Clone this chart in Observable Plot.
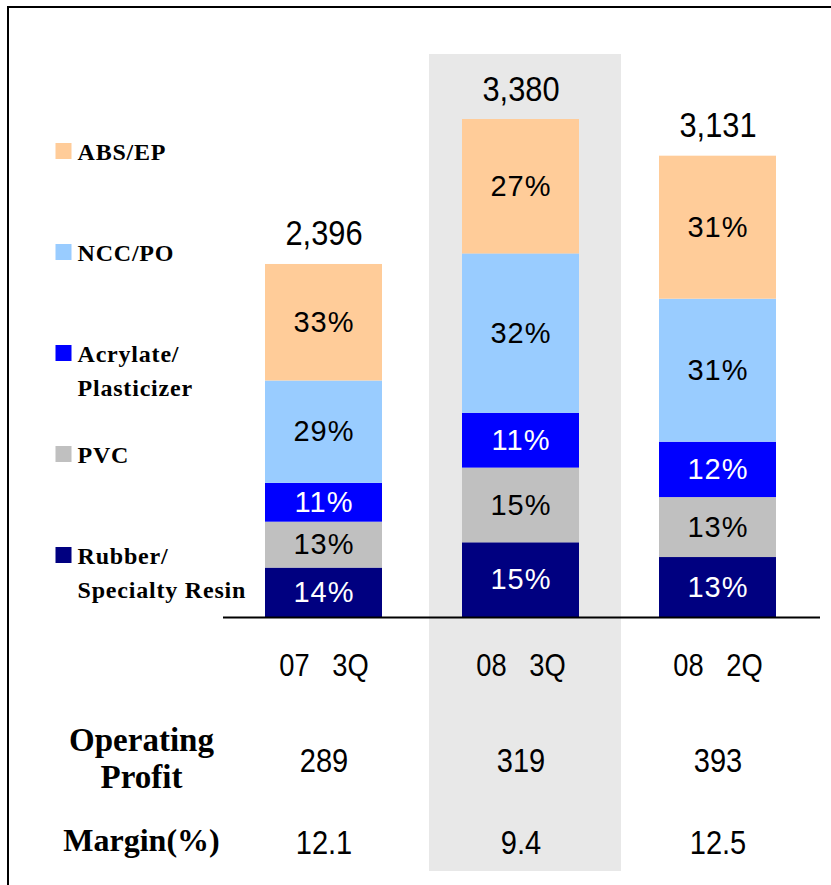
<!DOCTYPE html>
<html>
<head>
<meta charset="utf-8">
<script src="https://cdn.jsdelivr.net/npm/d3@7"></script>
<script src="https://cdn.jsdelivr.net/npm/@observablehq/plot@0.6"></script>
<style>
  body { margin: 0; background: #fff; }
  #wrap { position: relative; width: 831px; height: 885px; overflow: hidden; }
  #border { position: absolute; left: 7px; top: 6px; width: 900px; height: 900px;
            border-left: 2px solid #000; border-top: 2px solid #000; box-sizing: border-box; pointer-events: none; }
  #chart text { white-space: pre; }
</style>
</head>
<body>
<div id="wrap"><div id="chart"></div><div id="border"></div></div>
<script>
// ---- data ----
const quarters = ["07 3Q", "08 3Q", "08 2Q"];
const totals = [2396, 3380, 3131];
const operatingProfit = [289, 319, 393];
const marginPct = ["12.1", "9.4", "12.5"];
const highlighted = "08 3Q";

// segments, stacked bottom to top
const segments = ["Rubber/\nSpecialty Resin", "PVC", "Acrylate/\nPlasticizer", "NCC/PO", "ABS/EP"];
const rubberPct = [14, 15, 13];
const pvcPct = [13, 15, 13];
const acrylatePct = [11, 11, 12];
const nccPct = [29, 32, 31];
const absPct = [33, 27, 31];

// ---- styles ----
const segmentColors = ["#000080", "#C0C0C0", "#0000FF", "#99CCFF", "#FFCC99"];
const segmentTextColors = ["#ffffff", "#000000", "#ffffff", "#000000", "#000000"];
const sans = "'Liberation Sans', Arial, sans-serif";
const serif = "'Liberation Serif', 'Times New Roman', serif";

const pctBySegment = [rubberPct, pvcPct, acrylatePct, nccPct, absPct];
const rows = quarters.flatMap((q, i) => segments.map((s, j) => ({
  quarter: q,
  segment: s,
  pct: pctBySegment[j][i],
  value: totals[i] * pctBySegment[j][i] / 100,
  color: segmentColors[j],
  textColor: segmentTextColors[j]
})));

const legendMarks = segments.slice().reverse().flatMap((s, i) => {
  const j = segments.length - 1 - i;
  return [
    Plot.dot([s], {frameAnchor: "top-left", dx: -201, dy: 31.5 + i * 101, symbol: "square", r: 9.03, fill: segmentColors[j], stroke: null}),
    Plot.text([s], {frameAnchor: "top-left", dx: -187, dy: 16 + i * 101, text: d => d, textAnchor: "start", lineAnchor: "top",
      fontFamily: serif, fontWeight: "bold", fontSize: 24, lineHeight: 34 / 24, fill: "#000", ariaDescription: "legend"})
  ];
});

const plot = Plot.plot({
  width: 831,
  height: 885,
  marginLeft: 264,
  marginRight: 53,
  marginTop: 119,
  marginBottom: 268,
  style: {background: "transparent", fontFamily: sans},
  x: {type: "band", domain: quarters, paddingInner: 0.404, paddingOuter: 0, axis: null},
  y: {domain: [0, d3.max(totals)], axis: null},
  color: {type: "identity"},
  marks: [
    // highlight band
    Plot.barY([highlighted], {x: d => d, y1: 0, y2: d3.max(totals), fill: "#E8E8E8",
      insetLeft: -33, insetRight: -42, insetTop: -65, insetBottom: -254}),
    // stacked bars
    Plot.barY(rows, {x: "quarter", y: "value", z: "segment", fill: "color"}),
    // percentage labels
    Plot.text(rows, Plot.stackY({x: "quarter", y: "value", z: "segment", text: d => d.pct + "%",
      fill: "textColor", fontSize: 29, fontFamily: sans, ariaDescription: "pct"})),
    // baseline
    Plot.ruleY([0], {stroke: "#000", strokeWidth: 2, insetLeft: -41, insetRight: -42}),
    // totals
    Plot.text(quarters, {x: d => d, y: (d, i) => totals[i], text: (d, i) => d3.format(",")(totals[i]),
      lineAnchor: "bottom", dy: -19, fontSize: 35, fontFamily: sans, fill: "#000", ariaDescription: "narrow"}),
    // category labels
    Plot.text(quarters, {x: d => d, frameAnchor: "bottom", text: d => d.replace(" ", "   "), lineAnchor: "bottom", dy: 58,
      fontSize: 31, fontFamily: sans, fill: "#000", ariaDescription: "narrow"}),
    // operating profit row
    Plot.text(quarters, {x: d => d, frameAnchor: "bottom", text: (d, i) => String(operatingProfit[i]), lineAnchor: "bottom", dy: 154,
      fontSize: 33, fontFamily: sans, fill: "#000", ariaDescription: "narrow"}),
    // margin row
    Plot.text(quarters, {x: d => d, frameAnchor: "bottom", text: (d, i) => marginPct[i], lineAnchor: "bottom", dy: 236,
      fontSize: 33, fontFamily: sans, fill: "#000", ariaDescription: "narrow"}),
    // row headers
    Plot.text(["Operating\nProfit"], {frameAnchor: "bottom-left", dx: -123, dy: 170, text: d => d, lineAnchor: "bottom", textAnchor: "middle",
      fontSize: 33, lineHeight: 37 / 33, fontWeight: "bold", fontFamily: serif, fill: "#000"}),
    Plot.text(["Margin(%)"], {frameAnchor: "bottom-left", dx: -123, dy: 233, text: d => d, lineAnchor: "bottom", textAnchor: "middle",
      fontSize: 32, fontWeight: "bold", fontFamily: serif, fill: "#000"}),
    ...legendMarks
  ]
});

// narrow the sans-serif numerals (condensed look of the original)
plot.querySelectorAll('g[aria-description="narrow"] text').forEach(el => {
  const t = el.getAttribute("transform") || "";
  const x = el.getAttribute("x"), y = el.getAttribute("y");
  if (x != null || y != null) {
    el.removeAttribute("x"); el.removeAttribute("y");
    el.setAttribute("transform", `${t} translate(${x || 0},${y || 0}) scale(0.88,1)`);
  } else {
    el.setAttribute("transform", `${t} scale(0.88,1)`);
  }
});
plot.querySelectorAll('g[aria-description="legend"]').forEach(g => g.style.letterSpacing = "0.8px");
plot.querySelectorAll('g[aria-description="pct"]').forEach(g => g.style.letterSpacing = "1px");

document.getElementById("chart").appendChild(plot);
</script>
</body>
</html>
